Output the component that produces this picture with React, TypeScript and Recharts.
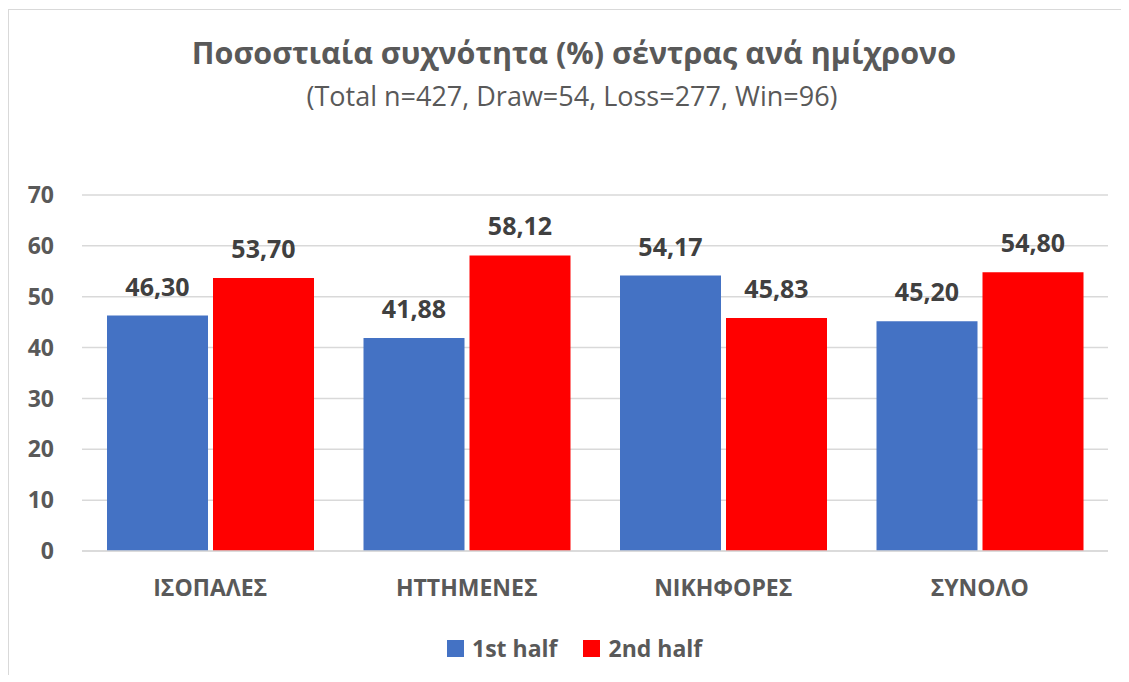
import React from "react";
import { BarChart, Bar, XAxis, YAxis, CartesianGrid, Legend, LabelList } from "recharts";

const categories = ["ΙΣΟΠΑΛΕΣ", "ΗΤΤΗΜΕΝΕΣ", "ΝΙΚΗΦΟΡΕΣ", "ΣΥΝΟΛΟ"];
const firstHalf = [46.3, 41.88, 54.17, 45.2];
const secondHalf = [53.7, 58.12, 45.83, 54.8];
const yTicks = [0, 10, 20, 30, 40, 50, 60, 70];
const seriesNames = ["1st half", "2nd half"];
const seriesColors = ["#4472C4", "#FF0000"];
const title = "Ποσοστιαία συχνότητα (%) σέντρας ανά ημίχρονο";
const subtitle = "(Total n=427, Draw=54, Loss=277, Win=96)";

const data = categories.map((c, i) => ({ name: c, first: firstHalf[i], second: secondHalf[i] }));

const FONT = "'Open Sans', 'Noto Sans', sans-serif";
const fmt = (v: any) => Number(v).toFixed(2).replace(".", ",");

const LegendContent = () => (
  <div style={{ display: "flex", alignItems: "center", height: 30, fontFamily: FONT, fontWeight: 700, fontSize: 23, color: "#595959" }}>
    {seriesNames.map((n, i) => (
      <div key={n} style={{ display: "flex", alignItems: "center", marginRight: i === 0 ? 26 : 0 }}>
        <div style={{ width: 17, height: 17, background: seriesColors[i], marginRight: 8 }} />
        <span style={{ lineHeight: "30px", whiteSpace: "nowrap" }}>{n}</span>
      </div>
    ))}
  </div>
);

export default function App() {
  return (
    <div style={{ position: "relative", width: 1112, height: 665, marginTop: 1, borderLeft: "1px solid #d9d9d9", borderTop: "1px solid #d9d9d9", overflow: "hidden" }}>
      <svg width={1112} height={120} style={{ position: "absolute", left: 0, top: 0 }}>
        <text x={565} y={54} textAnchor="middle" fontFamily={FONT} fontWeight={700} fontSize={30.5} fill="#595959">{title}</text>
        <text x={563} y={96} textAnchor="middle" fontFamily={FONT} fontSize={27} fill="#595959">{subtitle}</text>
      </svg>
      <BarChart width={1112} height={665} data={data} margin={{ top: 185, right: 13, bottom: 12, left: 0 }} barCategoryGap={25} barGap={5} style={{ position: "absolute", left: 0, top: 0 }}>
        <CartesianGrid vertical={false} stroke="#d9d9d9" strokeWidth={1.5} />
        <XAxis dataKey="name" height={82} axisLine={{ stroke: "#d9d9d9", strokeWidth: 1.5 }} tickLine={false} tickSize={0} tickMargin={29}
          tick={{ fontFamily: FONT, fontWeight: 700, fontSize: 23, fill: "#595959" }} />
        <YAxis width={73} domain={[0, 70]} ticks={yTicks} axisLine={false} tickLine={false} tickSize={0} tickMargin={28}
          tick={{ fontFamily: FONT, fontWeight: 700, fontSize: 23, fill: "#595959" }} />
        <Legend verticalAlign="bottom" content={<LegendContent />} wrapperStyle={{ left: 438, width: "auto" }} />
        <Bar dataKey="first" name={seriesNames[0]} fill={seriesColors[0]} isAnimationActive={false}>
          <LabelList dataKey="first" position="top" offset={20} formatter={fmt} style={{ fontFamily: FONT, fontWeight: 700, fontSize: 25, fill: "#404040" }} />
        </Bar>
        <Bar dataKey="second" name={seriesNames[1]} fill={seriesColors[1]} isAnimationActive={false}>
          <LabelList dataKey="second" position="top" offset={20} formatter={fmt} style={{ fontFamily: FONT, fontWeight: 700, fontSize: 25, fill: "#404040" }} />
        </Bar>
      </BarChart>
    </div>
  );
}
